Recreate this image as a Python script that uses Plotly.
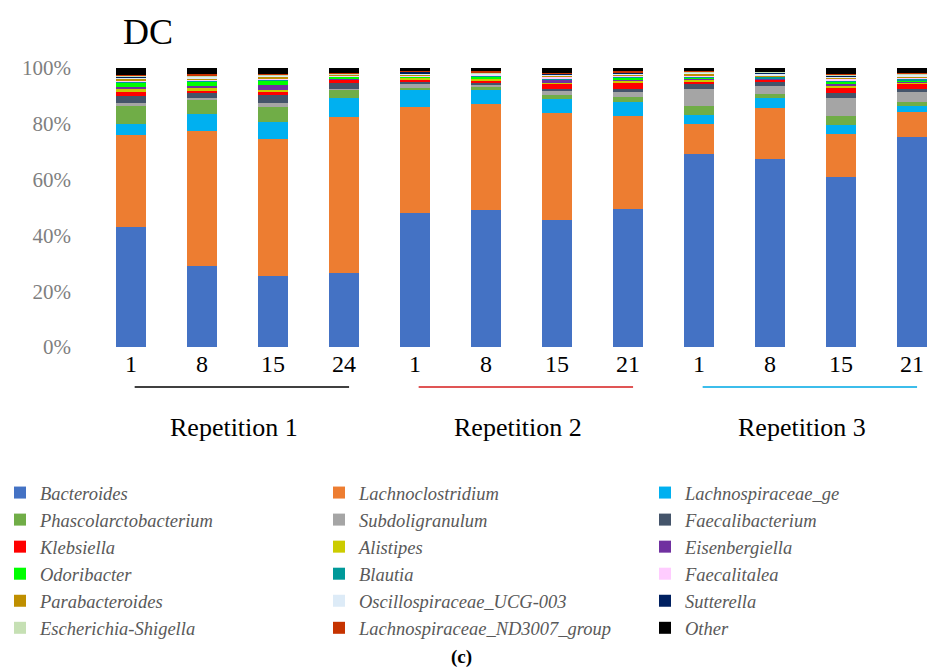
import plotly.graph_objects as go

# Sampling days per repetition
days = ["1", "8", "15", "24", "1", "8", "15", "21", "1", "8", "15", "21"]
groups = ["Repetition 1", "Repetition 2", "Repetition 3"]
group_sizes = [4, 4, 4]
group_line_colors = ["#404040", "#E05555", "#3CBDEB"]

# y-axis ticks
y_ticks = [0, 20, 40, 60, 80, 100]
y_tick_labels = ["0%", "20%", "40%", "60%", "80%", "100%"]

# Relative abundance (%) of each genus per sample
bacteroides = [43.0, 29.1, 25.4, 26.4, 47.9, 49.2, 45.6, 49.6, 69.3, 67.4, 61.0, 75.2]
lachnoclostridium = [33.0, 48.5, 49.3, 56.1, 38.0, 37.9, 38.1, 33.3, 10.7, 18.2, 15.4, 9.1]
lachnospiraceae_ge = [3.9, 6.0, 6.0, 6.9, 6.1, 5.0, 5.1, 4.8, 3.3, 3.8, 3.3, 2.0]
phascolarctobacterium = [6.6, 5.0, 5.4, 2.9, 0.8, 1.1, 1.7, 1.8, 3.2, 1.3, 3.0, 1.5]
subdoligranulum = [1.0, 0.7, 1.2, 0.3, 1.5, 0.8, 1.3, 1.8, 6.0, 3.0, 6.6, 3.6]
faecalibacterium = [2.4, 1.8, 3.2, 2.2, 0.8, 0.6, 0.8, 1.2, 1.6, 1.2, 1.8, 1.2]
klebsiella = [1.7, 1.0, 1.0, 0.9, 0.8, 0.8, 2.0, 2.0, 1.2, 0.8, 2.0, 2.0]
alistipes = [0.7, 0.7, 0.7, 0.1, 0.6, 0.8, 0.2, 0.9, 0.6, 0.2, 0.5, 0.3]
eisenbergiella = [0.8, 0.8, 1.7, 0.1, 0.2, 0.2, 1.0, 0.2, 0.2, 0.2, 0.6, 0.1]
odoribacter = [1.8, 1.5, 1.6, 1.0, 0.2, 0.7, 0.2, 0.9, 0.5, 0.2, 0.8, 0.2]
blautia = [0.3, 0.3, 0.3, 0.1, 0.2, 0.2, 0.1, 0.6, 0.4, 0.5, 0.6, 1.2]
faecalitalea = [0.3, 0.5, 0.4, 0.2, 0.2, 0.2, 1.0, 0.2, 0.3, 0.2, 0.5, 0.3]
parabacteroides = [0.7, 0.5, 0.6, 0.3, 0.4, 0.2, 0.2, 0.3, 0.6, 0.2, 0.6, 0.2]
oscillospiraceae_ucg003 = [0.5, 0.4, 0.4, 0.2, 0.4, 0.3, 0.4, 0.5, 0.4, 0.8, 0.4, 0.8]
sutterella = [0.3, 0.2, 0.2, 0.1, 0.6, 0.2, 0.3, 0.2, 0.1, 0.4, 0.2, 0.1]
escherichia_shigella = [0.3, 0.3, 0.2, 0.1, 0.2, 0.2, 0.1, 0.2, 0.2, 0.2, 0.3, 0.2]
lachnospiraceae_nd3007 = [0.2, 0.5, 0.2, 0.2, 0.1, 0.6, 0.1, 0.5, 0.4, 0.1, 0.2, 0.2]
other = [2.5, 2.2, 2.2, 1.9, 1.0, 1.0, 1.8, 1.0, 1.0, 1.3, 2.2, 1.8]

taxa = [
    ("Bacteroides", bacteroides, "#4472C4"),
    ("Lachnoclostridium", lachnoclostridium, "#ED7D31"),
    ("Lachnospiraceae_ge", lachnospiraceae_ge, "#00B0F0"),
    ("Phascolarctobacterium", phascolarctobacterium, "#70AD47"),
    ("Subdoligranulum", subdoligranulum, "#A5A5A5"),
    ("Faecalibacterium", faecalibacterium, "#44546A"),
    ("Klebsiella", klebsiella, "#FF0000"),
    ("Alistipes", alistipes, "#CCCC00"),
    ("Eisenbergiella", eisenbergiella, "#7030A0"),
    ("Odoribacter", odoribacter, "#00FF00"),
    ("Blautia", blautia, "#009999"),
    ("Faecalitalea", faecalitalea, "#FFCCFF"),
    ("Parabacteroides", parabacteroides, "#BF8F00"),
    ("Oscillospiraceae_UCG-003", oscillospiraceae_ucg003, "#DDEBF7"),
    ("Sutterella", sutterella, "#002060"),
    ("Escherichia-Shigella", escherichia_shigella, "#C6E0B4"),
    ("Lachnospiraceae_ND3007_group", lachnospiraceae_nd3007, "#C63300"),
    ("Other", other, "#000000"),
]

x_pos = list(range(len(days)))
legend_ids = ["legend", "legend2", "legend3"]

fig = go.Figure()
for i, (name, vals, color) in enumerate(taxa):
    fig.add_trace(go.Bar(
        x=x_pos, y=vals, name=name,
        marker=dict(color=color, line=dict(width=0)),
        width=0.42,
        legend=legend_ids[i % 3],
    ))

serif = "Liberation Serif"

# Group underlines and labels
shapes = []
annotations = []
start = 0
for g, n, c in zip(groups, group_sizes, group_line_colors):
    end = start + n - 1
    shapes.append(dict(type="line", xref="x", yref="paper",
                       x0=start + 0.05, x1=end + 0.07, y0=-0.1434, y1=-0.1434,
                       line=dict(color=c, width=2)))
    annotations.append(dict(text=g, xref="x", yref="paper",
                            x=(start + end) / 2 - 0.05, y=-0.29,
                            showarrow=False, xanchor="center", yanchor="middle",
                            font=dict(family=serif, size=26, color="#000000")))
    start = end + 1

annotations.append(dict(text="DC", xref="paper", yref="paper", x=0.0803, y=1.129,
                        showarrow=False, xanchor="center", yanchor="middle",
                        font=dict(family=serif, size=36, color="#000000")))
annotations.append(dict(text="<b>(c)</b>", xref="paper", yref="paper", x=0.451, y=-1.11,
                        showarrow=False, xanchor="center", yanchor="middle",
                        font=dict(family=serif, size=19, color="#000000")))

legend_common = dict(
    orientation="v", traceorder="normal",
    font=dict(family=serif, size=18.5, color="#595959", style="italic"),
    bgcolor="rgba(0,0,0,0)", borderwidth=0,
    xref="container", yref="container",
    xanchor="left", yanchor="top", y=0.2946,
    itemclick=False, itemdoubleclick=False,
)

fig.update_layout(
    width=927, height=672,
    barmode="stack",
    plot_bgcolor="white", paper_bgcolor="white",
    margin=dict(l=80, r=0, t=68, b=325, autoexpand=False),
    xaxis=dict(range=[-0.72, 11.21], tickmode="array", tickvals=x_pos, ticktext=days,
               showgrid=False, zeroline=False, showline=False, ticks="",
               tickfont=dict(family=serif, size=24, color="#000000"),
               fixedrange=True),
    yaxis=dict(range=[0, 100], tickmode="array", tickvals=y_ticks, ticktext=y_tick_labels,
               showgrid=False, zeroline=False, showline=False, ticks="",
               ticklabelstandoff=8,
               tickfont=dict(family=serif, size=21, color="#7F7F7F"),
               fixedrange=True),
    shapes=shapes,
    annotations=annotations,
    legend=dict(legend_common, x=0.0),
    legend2=dict(legend_common, x=0.3441),
    legend3=dict(legend_common, x=0.6958),
)

fig.write_html("out.html")
